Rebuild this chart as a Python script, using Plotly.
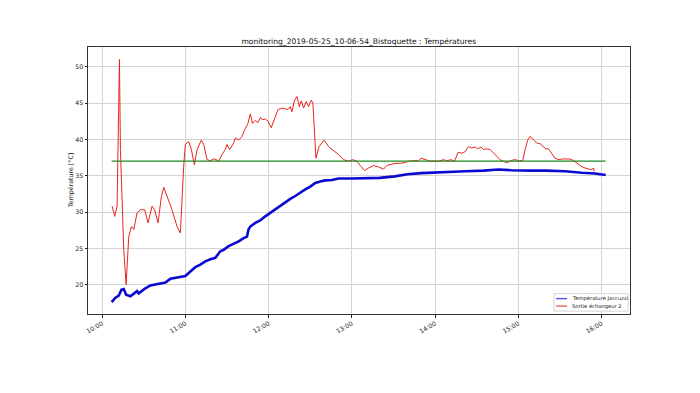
import plotly.graph_objects as go

DATE = "2019-05-25"
TITLE = "monitoring_2019-05-25_10-06-54_Bistoquette : Températures"
Y_LABEL = "Température [°C]"
X_TICK_HOURS = ["10:00", "11:00", "12:00", "13:00", "14:00", "15:00", "16:00"]

# Température Jaccuzzi (blue)
jac_times = [
    "10:06:54", "10:09:36", "10:12:00", "10:13:54", "10:15:36", "10:17:18", "10:20:24",
    "10:22:48", "10:25:12", "10:26:24", "10:28:48", "10:31:12", "10:34:48", "10:38:24",
    "10:42:00", "10:45:36", "10:49:12", "10:52:48", "10:56:24", "11:00:00", "11:03:36",
    "11:07:12", "11:10:48", "11:14:24", "11:18:00", "11:21:36", "11:25:12", "11:27:36",
    "11:31:12", "11:34:48", "11:38:24", "11:42:00", "11:44:24", "11:45:30", "11:46:48",
    "11:50:24", "11:54:00", "11:57:36", "12:01:12", "12:04:48", "12:08:24", "12:12:00",
    "12:15:36", "12:19:12", "12:22:48", "12:26:24", "12:30:00", "12:33:36", "12:37:12",
    "12:40:48", "12:45:36", "12:50:24", "13:00:00", "13:09:36", "13:20:00", "13:31:00",
    "13:40:00", "13:50:00", "14:00:00", "14:10:00", "14:21:36", "14:35:00", "14:45:36",
    "14:55:00", "15:00:00", "15:09:36", "15:20:00", "15:33:36", "15:45:36", "15:55:12",
    "16:02:54",
]
jac_vals = [
    17.6, 18.2, 18.5, 19.3, 19.4, 18.6, 18.4,
    18.8, 19.1, 18.8, 19.2, 19.5, 19.9, 20.0,
    20.1, 20.3, 20.8, 20.9, 21.0, 21.2, 21.8,
    22.4, 22.75, 23.2, 23.5, 23.7, 24.6, 24.8,
    25.3, 25.6, 25.95, 26.4, 26.6, 27.6, 28.0,
    28.5, 28.85, 29.4, 29.9, 30.4, 30.9, 31.3,
    31.8, 32.2, 32.7, 33.1, 33.5, 34.0, 34.2,
    34.35, 34.4, 34.6, 34.6, 34.6, 34.7, 34.9,
    35.2, 35.35, 35.4, 35.5, 35.6, 35.7, 35.85,
    35.75, 35.7, 35.7, 35.7, 35.6, 35.4, 35.3,
    35.1,
]

# Sortie échangeur 2 (red)
ech_times = [
    "10:07:12", "10:09:06", "10:10:48", "10:12:30", "10:13:12", "10:15:36", "10:17:18",
    "10:19:12", "10:21:06", "10:22:48", "10:25:12", "10:27:36", "10:30:42", "10:33:06",
    "10:36:00", "10:37:54", "10:40:18", "10:42:42", "10:44:24", "10:46:48", "10:50:24",
    "10:54:00", "10:56:24", "10:58:48", "11:00:00", "11:02:24", "11:04:18", "11:06:30",
    "11:08:24", "11:11:30", "11:13:12", "11:15:36", "11:18:00", "11:20:24", "11:24:00",
    "11:26:24", "11:28:48", "11:30:00", "11:31:54", "11:34:48", "11:36:00", "11:38:24",
    "11:40:48", "11:42:42", "11:45:06", "11:46:48", "11:48:24", "11:50:24", "11:52:18",
    "11:54:00", "11:55:54", "11:57:36", "11:59:30", "12:01:54", "12:04:06", "12:06:42",
    "12:10:00", "12:13:54", "12:15:36", "12:16:48", "12:18:30", "12:20:24", "12:22:06",
    "12:23:30", "12:25:12", "12:27:06", "12:28:48", "12:30:42", "12:31:54", "12:32:54",
    "12:34:06", "12:36:18", "12:40:00", "12:43:12", "12:46:48", "12:50:24", "12:54:00",
    "12:57:36", "13:00:30", "13:03:36", "13:06:00", "13:09:06", "13:12:00", "13:15:36",
    "13:19:12", "13:22:48", "13:25:12", "13:27:36", "13:31:12", "13:34:48", "13:38:24",
    "13:42:00", "13:45:36", "13:48:00", "13:49:54", "13:52:48", "13:56:24", "14:00:00",
    "14:02:54", "14:06:00", "14:08:24", "14:11:30", "14:13:54", "14:16:30", "14:19:00",
    "14:21:36", "14:24:00", "14:26:24", "14:28:48", "14:30:42", "14:33:06", "14:34:48",
    "14:37:12", "14:39:36", "14:42:00", "14:44:24", "14:46:48", "14:49:54", "14:52:18",
    "14:54:42", "14:57:36", "15:00:42", "15:03:06", "15:04:48", "15:06:42", "15:08:24",
    "15:10:48", "15:13:12", "15:15:36", "15:18:00", "15:19:42", "15:21:36", "15:24:00",
    "15:26:24", "15:29:18", "15:31:42", "15:34:48", "15:37:12", "15:39:36", "15:42:00",
    "15:45:06", "15:48:00", "15:50:24", "15:52:48", "15:54:00", "15:54:42",
]
ech_vals = [
    30.8, 29.4, 30.8, 51.0, 38.6, 24.8, 20.0,
    26.6, 28.0, 27.6, 29.9, 30.3, 30.3, 28.5,
    30.8, 30.3, 28.5, 32.1, 33.4, 32.1, 30.3,
    28.0, 27.1, 36.3, 39.3, 39.7, 38.6, 36.5,
    38.6, 39.9, 39.3, 37.2, 37.05, 37.3, 37.05,
    37.9, 38.6, 39.3, 38.6, 39.5, 40.2, 39.9,
    40.4, 41.3, 42.2, 43.5, 42.2, 42.6, 42.3,
    43.0, 42.7, 42.8, 42.5, 41.6, 42.7, 44.1,
    44.3, 44.1, 44.5, 43.8, 45.3, 45.9, 44.5,
    45.3, 44.3, 45.2, 44.5, 45.4, 45.0, 41.3,
    37.4, 39.0, 39.9, 39.0, 38.5, 37.9, 37.2,
    37.0, 37.2, 37.0, 36.4, 35.7, 36.05, 36.4,
    36.2, 35.9, 36.4, 36.5, 36.7, 36.7, 36.8,
    37.05, 37.1, 37.05, 37.4, 37.2, 37.0, 37.0,
    37.0, 37.2, 37.05, 37.2, 36.96, 38.2, 38.1,
    38.3, 39.0, 38.8, 38.95, 38.7, 38.95, 38.6,
    38.7, 38.6, 38.1, 37.65, 37.2, 36.9, 36.8,
    37.1, 37.2, 37.05, 37.05, 38.6, 39.9, 40.4,
    39.9, 39.5, 39.4, 39.0, 38.7, 38.7, 38.1,
    37.4, 37.2, 37.3, 37.3, 37.3, 37.1, 36.7,
    36.3, 36.05, 35.9, 35.8, 36.05, 35.6,
]

# Consigne (green, constant)
consigne_times = ["10:06:54", "16:02:54"]
consigne_vals = [37.0, 37.0]

X_RANGE = ["09:49:50", "16:20:25"]
Y_RANGE = [15.96, 52.71]

SERIES_NAMES = ["Température Jaccuzzi", "Sortie échangeur 2"]
BLUE, RED, GREEN = "#0a0ad2", "#e8251f", "#1f8a1f"


def ts(lst):
    return [f"{DATE} {t}" for t in lst]


FONT = "DejaVu Sans"

fig = go.Figure()
fig.add_trace(go.Scatter(
    x=ts(jac_times), y=jac_vals, mode="lines", name=SERIES_NAMES[0],
    line=dict(color=BLUE, width=2.6), showlegend=False,
))
fig.add_trace(go.Scatter(
    x=ts(ech_times), y=ech_vals, mode="lines", name=SERIES_NAMES[1],
    line=dict(color=RED, width=1.0), showlegend=False,
))
fig.add_trace(go.Scatter(
    x=ts(consigne_times), y=consigne_vals, mode="lines", name="Consigne",
    line=dict(color=GREEN, width=1.1), showlegend=False,
))

W, H = 700, 393
L, R, T, B = 87.5, 630, 47.2, 314.4


def px(x):
    return (x - L) / (R - L)


def py(y):
    return (B - y) / (B - T)


fig.update_layout(
    width=W, height=H, autosize=False,
    margin=dict(l=L, r=W - R, t=T, b=H - B, pad=0),
    paper_bgcolor="white", plot_bgcolor="white",
    font=dict(family=FONT, size=6.3, color="#222"),
    title=dict(text=TITLE, x=(L + R) / 2 / W, xanchor="center",
               y=1 - 41 / H, yanchor="middle",
               font=dict(family=FONT, size=7.6, color="#111")),
    showlegend=False,
)

fig.update_xaxes(
    type="date",
    range=ts(X_RANGE),
    tickvals=ts([h + ":00" for h in X_TICK_HOURS]),
    ticktext=X_TICK_HOURS,
    tickangle=-30,
    ticks="outside", ticklen=2.5, tickwidth=0.8, tickcolor="#222",
    showline=True, linecolor="#333", linewidth=1, mirror=True,
    showgrid=True, gridcolor="#d4d4d4", gridwidth=1,
    zeroline=False,
    tickfont=dict(family=FONT, size=6.3, color="#222"),
)
fig.update_yaxes(
    range=Y_RANGE,
    tickvals=[20, 25, 30, 35, 40, 45, 50],
    ticks="outside", ticklen=2.5, tickwidth=0.8, tickcolor="#222",
    showline=True, linecolor="#333", linewidth=1, mirror=True,
    showgrid=True, gridcolor="#d4d4d4", gridwidth=1,
    zeroline=False,
    tickfont=dict(family=FONT, size=6.3, color="#222"),
)

fig.add_annotation(
    text=Y_LABEL, xref="paper", yref="paper",
    x=px(70), y=0.5, xanchor="center", yanchor="middle",
    textangle=-90, showarrow=False,
    font=dict(family=FONT, size=6.3, color="#222"),
)

# legend box (matplotlib-style, lower right)
fig.add_shape(type="rect", xref="paper", yref="paper",
              x0=px(554), x1=px(628), y0=py(311.5), y1=py(294),
              line=dict(color="#cccccc", width=0.8), fillcolor="rgba(255,255,255,0.85)",
              layer="above")
for name, color, yy in [(SERIES_NAMES[0], BLUE, 299), (SERIES_NAMES[1], RED, 306.5)]:
    fig.add_shape(type="line", xref="paper", yref="paper",
                  x0=px(556), x1=px(567), y0=py(yy), y1=py(yy),
                  line=dict(color=color, width=1.4), opacity=0.7, layer="above")
    fig.add_annotation(text=name, xref="paper", yref="paper",
                       x=px(570), y=py(yy), xanchor="left", yanchor="middle",
                       showarrow=False,
                       font=dict(family=FONT, size=5.2, color="#222"))

fig.write_html("out.html", config={"displayModeBar": False},
               post_script="document.body.style.margin='0';")
